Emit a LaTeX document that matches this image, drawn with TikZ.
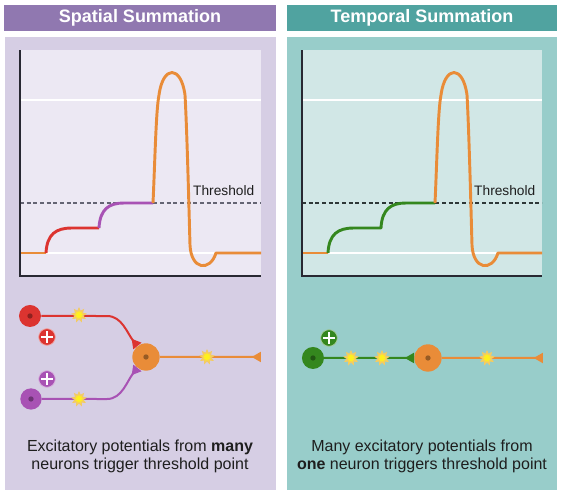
\documentclass[tikz,border=0pt]{standalone}
\usepackage{fontspec}
\setmainfont{Liberation Sans}
\usepackage{tkz-euclide}
\usetikzlibrary{arrows.meta,shapes.geometric}
\definecolor{TitleLClr}{RGB}{144,120,176}
\definecolor{PanelLClr}{RGB}{214,206,228}
\definecolor{PlotLClr}{RGB}{236,232,243}
\definecolor{TitleRClr}{RGB}{80,163,160}
\definecolor{PanelRClr}{RGB}{152,205,202}
\definecolor{PlotRClr}{RGB}{209,231,230}
\definecolor{AxisClr}{RGB}{40,40,50}
\definecolor{OrangeClr}{RGB}{233,140,56}
\definecolor{RedClr}{RGB}{220,52,48}
\definecolor{PurpleClr}{RGB}{168,82,180}
\definecolor{GreenClr}{RGB}{52,135,30}
\definecolor{SparkClr}{RGB}{255,240,30}
\definecolor{GlowClr}{RGB}{240,190,60}
\definecolor{ThreshLClr}{RGB}{100,100,115}
\definecolor{ThreshRClr}{RGB}{45,55,55}
\definecolor{TextClr}{RGB}{30,30,30}

\begin{document}
\begin{tikzpicture}[x=1pt,y=-1pt,scale=.75]
\tikzset{
  trace/.style={line width=2.2pt,line join=round},
  axon/.style={line width=1.5pt},
  term/.style={-{Triangle[reversed,length=7pt,width=7.5pt]}},
  neuron/.style={circle,inner sep=0pt,minimum size=#1,
    path picture={\fill[black,opacity=.35] (path picture bounding box.center) circle (2);}},
  spark/.style={star,star points=9,star point ratio=1.7,inner sep=0pt,minimum size=9.5pt,
    fill=SparkClr,draw=GlowClr!80,line width=1pt},
  plus/.style={circle,inner sep=0pt,minimum size=12.5pt,fill=#1,draw=white!55!#1,line width=.6pt,
    path picture={\draw[white,line width=2.1pt]
      ([xshift=-4.4pt]path picture bounding box.center) -- ([xshift=4.4pt]path picture bounding box.center)
      ([yshift=-4.4pt]path picture bounding box.center) -- ([yshift=4.4pt]path picture bounding box.center);}},
  title/.style={text=white,font=\fontsize{13.5}{16}\selectfont\bfseries},
  caption/.style={align=center,text=TextClr,font=\fontsize{12}{13.5}\selectfont},
  thresh/.style={anchor=east,text=TextClr,font=\fontsize{10.3}{12}\selectfont}
}

\useasboundingbox[fill=white] (0,0) rectangle (561,493);

\tkzDefPoints{30/316/R,31/399/P,146/357/O,261/357/E,313/358/G,428/358/Q,543/358/F}

% left panel
\fill[TitleLClr] (4,5) rectangle (276,31);
\fill[PanelLClr] (5,37) rectangle (276,490);
\fill[PlotLClr] (20,50) rectangle (261,276);
\draw[white,line width=1pt] (20,100) -- (261,100) (20,253) -- (261,253);
\draw[ThreshLClr,line width=.8pt,dash pattern=on 3pt off 2pt] (20,203) -- (261,203);
\node[title] (tl) at (140,18) {Spatial Summation};
\node[thresh] (hl) at (259,191) {Threshold};

\draw[trace,OrangeClr] (20,253) -- (46,253);
\draw[trace,RedClr] (46,253) .. controls (47,234) and (56,228) .. (72,228) -- (99,228);
\draw[trace,PurpleClr] (99,228) .. controls (100,209) and (109,203) .. (124,203) -- (153,203);
\draw[trace,OrangeClr] (153,203) .. controls (155,160) and (156,110) .. (159,95)
  .. controls (163,65) and (181,65) .. (185,95) .. controls (187,130) and (189,210) .. (190,245)
  .. controls (191,270) and (210,272) .. (216,253) -- (261,253);
\draw[AxisClr,line width=1pt] (20,50) -- (20,276) -- (261,276);

\node[neuron=16.5pt,fill=RedClr] (rn) at (R) {};
\node[neuron=16pt,fill=PurpleClr] (pn) at (P) {};
\node[neuron=20.5pt,fill=OrangeClr] (on) at (O) {};
\coordinate (oe) at (E);

\draw[axon,RedClr,term] (rn) -- (107,316) .. controls (122,316) and (127,333) .. (on.128);
\draw[axon,PurpleClr,term] (pn) -- (107,399) .. controls (122,399) and (127,381) .. (on.-128);
\draw[axon,OrangeClr,term] (on) -- (oe);

\node[spark] (s1) at (79,315) {};
\node[spark] (s2) at (79,399) {};
\node[spark] (s3) at (207,357) {};
\node[plus=RedClr] (pr) at (47,337) {};
\node[plus=PurpleClr] (pp) at (47,379) {};

\node[caption] (cl) at (140,456) {Excitatory potentials from \textbf{many}\\neurons trigger threshold point};

% right panel
\fill[TitleRClr] (287,5) rectangle (557,31);
\fill[PanelRClr] (287,37) rectangle (557,490);
\fill[PlotRClr] (302,50) rectangle (542,276);
\draw[white,line width=1pt] (302,100) -- (542,100) (302,253) -- (542,253);
\draw[ThreshRClr,line width=.8pt,dash pattern=on 3pt off 2pt] (302,203) -- (542,203);
\node[title] (tr) at (422,18) {Temporal Summation};
\node[thresh] (hr) at (540,191) {Threshold};

\draw[trace,OrangeClr] (302,253) -- (328,253);
\draw[trace,GreenClr] (328,253) .. controls (329,234) and (338,228) .. (354,228) -- (381,228)
  .. controls (382,209) and (391,203) .. (406,203) -- (435,203);
\draw[trace,OrangeClr] (435,203) .. controls (437,160) and (438,110) .. (441,95)
  .. controls (445,65) and (463,65) .. (467,95) .. controls (469,130) and (471,210) .. (472,245)
  .. controls (473,270) and (492,272) .. (498,253) -- (542,253);
\draw[AxisClr,line width=1pt] (302,50) -- (302,276) -- (542,276);

\node[neuron=16.5pt,fill=GreenClr] (gn) at (G) {};
\node[neuron=20.5pt,fill=OrangeClr] (qn) at (Q) {};
\coordinate (qe) at (F);

\draw[axon,GreenClr,term] (gn) -- (qn);
\draw[axon,OrangeClr,term] (qn) -- (qe);

\node[spark] (s4) at (351,358) {};
\node[spark] (s5) at (382,358) {};
\node[spark] (s6) at (487,358) {};
\node[plus=GreenClr] (pg) at (329,338) {};

\node[caption] (cr) at (422,456) {Many excitatory potentials from\\\textbf{one} neuron triggers threshold point};

\end{tikzpicture}
\end{document}
